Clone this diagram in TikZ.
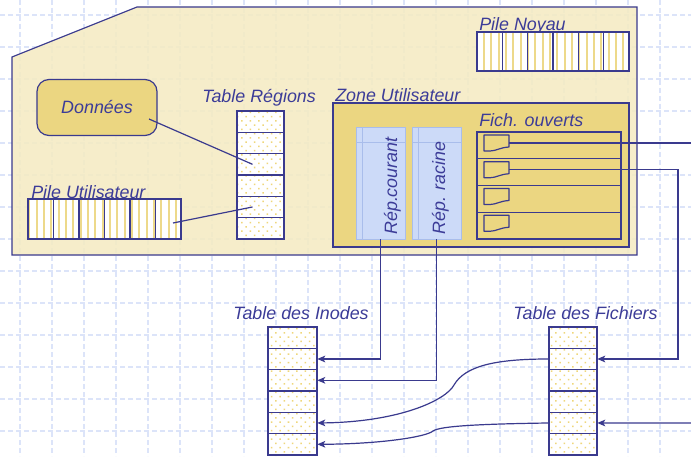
\documentclass[tikz,border=0pt]{standalone}
\usepackage{fontspec}
\setmainfont{Liberation Sans}
\usetikzlibrary{patterns.meta,arrows.meta}
\definecolor{ink}{HTML}{3A3A8E}
\definecolor{txt}{HTML}{3C3C98}
\definecolor{beige}{HTML}{F5EBC3}
\definecolor{gold}{HTML}{EBD681}
\definecolor{paleblue}{HTML}{CCDAF8}
\definecolor{paleedge}{HTML}{A9BDEB}
\definecolor{gridblue}{HTML}{DCE4F9}
\definecolor{dotyellow}{HTML}{EFD77A}
\definecolor{stripeyellow}{HTML}{EDD98A}
\begin{document}
\begin{tikzpicture}[x=0.75pt,y=-0.75pt,
  lbl/.style={font=\fontsize{13.4}{16}\selectfont\itshape, text=txt, inner sep=0pt},
  dotcell/.style={fill=white, inner sep=0pt,
    postaction={pattern={Dots[radius=0.8pt,distance=4.5pt,angle=45]}, pattern color=dotyellow},
    postaction={draw=ink, line width=0.9pt}},
  stripecell/.style={fill=white, inner sep=0pt,
    postaction={pattern={Lines[angle=90,distance=5.5pt,line width=1.4pt]}, pattern color=stripeyellow},
    postaction={draw=ink, line width=0.9pt}},
  repbox/.style={draw=paleedge, fill=paleblue, line width=0.6pt, inner sep=0pt,
    minimum width=36.75pt, minimum height=84pt},
  rowbox/.style={draw=ink, fill=gold, line width=0.9pt, inner sep=0pt,
    minimum width=108pt, minimum height=20.06pt},
  conn/.style={draw=ink, line width=0.9pt},
  arr/.style={conn, -{Stealth[length=6pt,width=5pt,inset=1.5pt]}}
]
\useasboundingbox (0,0) rectangle (691,456);
\fill[white] (0,0) rectangle (691,456);
% background grid
\foreach \i in {0,...,21}
  \draw[gridblue, line width=0.9pt, dash pattern=on 3.5pt off 2.5pt] (20+32*\i,0) -- (20+32*\i,456);
\foreach \j in {0,...,14}
  \draw[gridblue, line width=0.9pt, dash pattern=on 3.5pt off 2.5pt] (0,15+32*\j) -- (691,15+32*\j);
% main memory shape
\fill[beige, fill opacity=0.88] (12,57) -- (137,7) -- (637,7) -- (637,255) -- (12,255) -- cycle;
\draw[ink, line width=0.9pt] (12,57) -- (137,7) -- (637,7) -- (637,255) -- (12,255) -- cycle;
% Donnees
\node[draw=ink, fill=gold, rounded corners=9pt, line width=0.9pt, minimum width=90pt, minimum height=42pt,
  lbl] (donnees) at (97,107.5) {Données};
% Pile Noyau
\node[lbl, anchor=base west] (lpn) at (479,31) {Pile Noyau};
\foreach \i in {1,...,6}
  \node[stripecell, minimum width=19pt, minimum height=29.25pt] (pn\i) at (477+25.33*\i-12.67,51.5) {};
% Pile Utilisateur
\node[lbl, anchor=base west] (lpu) at (31,198) {Pile Utilisateur};
\foreach \i in {1,...,6}
  \node[stripecell, minimum width=19.1pt, minimum height=30pt] (pu\i) at (28+25.5*\i-12.75,219) {};
% Table Regions
\node[lbl, anchor=base west] (ltr) at (202,103) {Table Régions};
\foreach \i in {1,...,6}
  \node[dotcell, minimum width=35.25pt, minimum height=16pt] (tr\i) at (260.5,111+21.33*\i-10.67) {};
% Zone Utilisateur
\node[lbl, anchor=base west] (lzu) at (335,102) {Zone Utilisateur};
\draw[draw=ink, fill=gold, line width=0.9pt] (333,103) rectangle (629,247);
% Rep boxes
\node[repbox] (rc) at (380.5,183) {};
\draw[paleedge, line width=0.6pt] (356,142) -- (405,142) (362,127) -- (362,239);
\node[repbox] (rr) at (436.5,183) {};
\draw[paleedge, line width=0.6pt] (412,142) -- (461,142) (418,127) -- (418,239);
\node[lbl, rotate=90, anchor=base west] (lrc) at (397,235) {Rép.courant};
\node[lbl, rotate=90, anchor=base west] (lrr) at (445,235) {Rép. racine};
% Fich. ouverts
\node[lbl, anchor=base west] (lfo) at (479,127) {Fich. ouverts};
\foreach \i in {1,...,4}
  \node[rowbox] (fo\i) at (549,132+26.75*\i-13.375) {};
\foreach \i in {1,...,4}{
  \pgfmathsetmacro\t{135+26.75*(\i-1)}
  \draw[ink, line width=0.9pt, fill=gold, line join=round] (484,\t) -- (509,\t) -- (509,\t+12)
     .. controls (500,\t+12.5) and (496,\t+16) .. (490,\t+16) -- (484,\t+16) -- cycle;
  \coordinate (d\i) at (509,\t+8);
}
% Table des Inodes
\node[lbl, anchor=base west] (lti) at (233,319) {Table des Inodes};
\foreach \i in {1,...,6}
  \node[dotcell, minimum width=36.75pt, minimum height=16pt] (ti\i) at (292.5,327+21.33*\i-10.67) {};
% Table des Fichiers
\node[lbl, anchor=base west] (ltf) at (513,319) {Table des Fichiers};
\foreach \i in {1,...,6}
  \node[dotcell, minimum width=36pt, minimum height=16pt] (tf\i) at (573,327+21.33*\i-10.67) {};
% connectors inside memory
\coordinate (dstart) at (149,119);
\coordinate (pstart) at (173,223);
\draw[conn] (dstart) -- ([xshift=-6pt]tr3.center);
\draw[conn] (pstart) -- ([xshift=-6pt]tr5.center);
% connectors to tables
\draw[arr] (rc.south) |- (ti2.east);
\draw[arr] (rr.south) |- (ti3.east);
\coordinate (c2) at (678,169.75);
\draw[arr] (d2) -- (c2) |- (tf2.east);
\coordinate (e1) at (691,143);
\coordinate (e2) at (691,423);
\draw[conn] (d1) -- (e1);
\draw[arr] (e2) -- (tf5.east);
\draw[arr] (tf2.west) .. controls (495,359) and (465,366) .. (454,385)
   .. controls (446,400) and (400,422) .. (ti5.east);
\draw[arr] (tf5.west) .. controls (480,424) and (440,426) .. (433,431)
   .. controls (426,437) and (380,444) .. (ti6.east);
\end{tikzpicture}
\end{document}
